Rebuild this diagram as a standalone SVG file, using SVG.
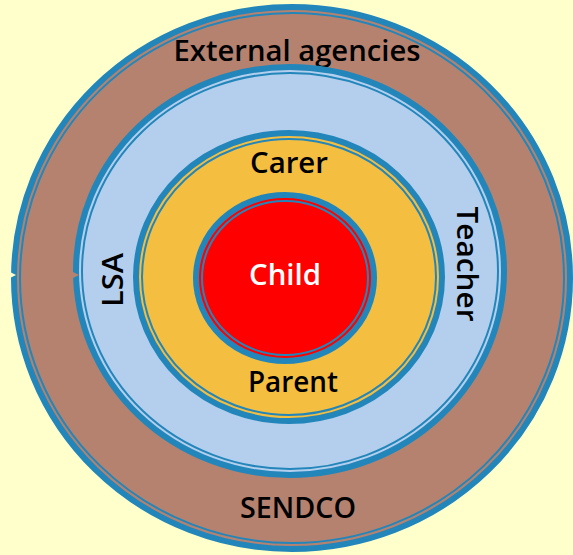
<svg xmlns="http://www.w3.org/2000/svg" width="573" height="555" viewBox="0 0 573 555">
  <style>
    .ring { stroke: #2386BA; stroke-width: 6; }
    .line { fill: none; stroke: #2386BA; stroke-width: 2; }
    .lbl { font-family: "Open Sans", "DejaVu Sans", "Liberation Sans", sans-serif; font-weight: 600; font-size: 28px; fill: #000; text-anchor: middle; }
    .white { fill: #FFFFFF; }
  </style>
  <rect width="573" height="555" fill="#FFFFCC"/>

  <!-- outer ring: external agencies / SENDCO -->
  <g id="ring-external">
    <ellipse cx="292" cy="278" rx="278" ry="271" fill="#B5826F" class="ring"/>
    <ellipse cx="292" cy="278" rx="272" ry="265" class="line"/>
    <!-- small nick in the left edge -->
    <path d="M8,271 L16,275 L8,279 Z" fill="#FFFFCC"/>
    <text class="lbl" x="297" y="61" textLength="247" lengthAdjust="spacingAndGlyphs">External agencies</text>
    <text class="lbl" x="298" y="518" textLength="116" lengthAdjust="spacingAndGlyphs">SENDCO</text>
  </g>

  <!-- second ring: LSA / Teacher -->
  <g id="ring-staff">
    <ellipse cx="290" cy="271" rx="214" ry="204" fill="#B4CFEE" class="ring"/>
    <ellipse cx="290" cy="271" rx="208" ry="198" class="line"/>
    <path d="M71,271 L79,275 L71,279 Z" fill="#B5826F"/>
    <text class="lbl" transform="translate(123,280) rotate(-90)" x="0" y="0" textLength="54" lengthAdjust="spacingAndGlyphs">LSA</text>
    <text class="lbl" transform="translate(457,264) rotate(90)" x="0" y="0" textLength="115" lengthAdjust="spacingAndGlyphs">Teacher</text>
  </g>

  <!-- third ring: Carer / Parent -->
  <g id="ring-family">
    <ellipse cx="289" cy="277" rx="153" ry="144" fill="#F4BE40" class="ring"/>
    <ellipse cx="289" cy="277" rx="147" ry="138" class="line"/>
    <text class="lbl" x="289" y="173" textLength="78" lengthAdjust="spacingAndGlyphs">Carer</text>
    <text class="lbl" x="293" y="392" textLength="90" lengthAdjust="spacingAndGlyphs">Parent</text>
  </g>

  <!-- centre: Child -->
  <g id="node-child">
    <ellipse cx="285" cy="278" rx="89" ry="83" fill="#FF0000" class="ring"/>
    <ellipse cx="285" cy="278" rx="83" ry="77" class="line"/>
    <text class="lbl white" x="285" y="285" textLength="72" lengthAdjust="spacingAndGlyphs">Child</text>
  </g>

  <g id="connectors"/>
</svg>
